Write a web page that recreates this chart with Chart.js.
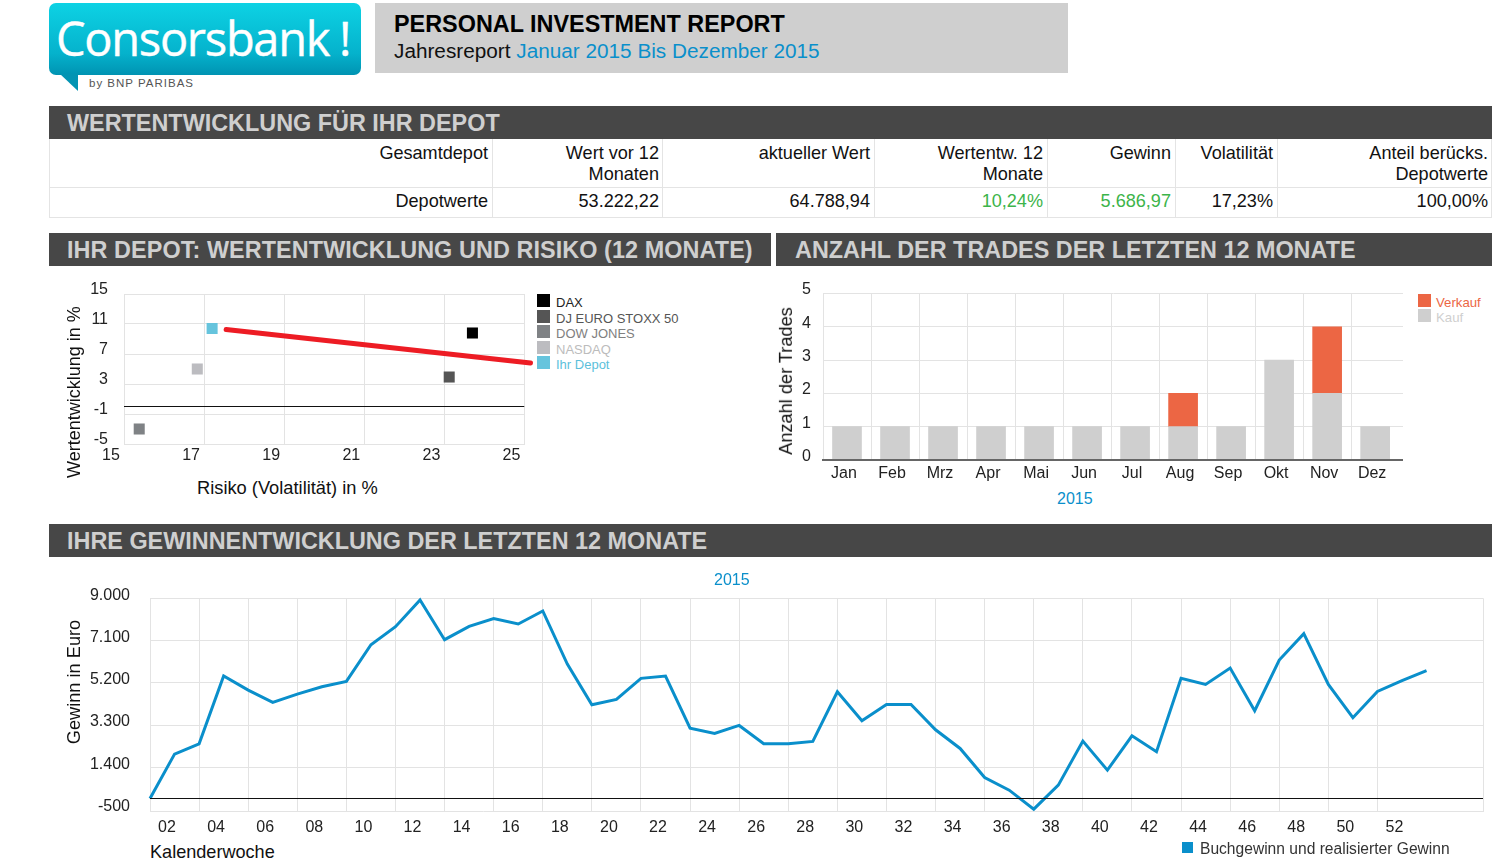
<!DOCTYPE html>
<html lang="de">
<head>
<meta charset="utf-8">
<title>Personal Investment Report</title>
<script src="https://cdn.jsdelivr.net/npm/chart.js@4"></script>
<style>
  html, body { margin: 0; padding: 0; background: #fff; overflow: hidden; }
  body { width: 1503px; height: 860px; position: relative; font-family: "Liberation Sans", sans-serif; color: #111; }
  .abs, canvas { position: absolute; }
  .t { position: absolute; white-space: nowrap; line-height: 1; }
  .bar { position: absolute; background: #474747; color: #cfcfcf; font-weight: bold; font-size: 23.4px; line-height: 34px; height: 33px; padding-left: 18px; box-sizing: border-box; white-space: nowrap; }
  .rot { position: absolute; white-space: nowrap; line-height: 1; transform: translate(-50%, -50%) rotate(-90deg); }
  .box { position: absolute; }
  #logo { left: 49px; top: 3px; width: 312px; height: 72px; border-radius: 7px; background: linear-gradient(#0dd2e4, #05b2cc 70%, #0093b2); }
  #tail { left: 60px; top: 74px; width: 18px; height: 17px; background: #0394b3; clip-path: polygon(0 0, 100% 0, 100% 100%); }
</style>
</head>
<body>
<div class="abs" id="logo"></div>
<div class="abs" id="tail"></div>
<div class="t" style="left:56px;top:8px;font:500 47px 'Open Sans';line-height:60px;color:#fff;letter-spacing:-1.3px;-webkit-text-stroke:0.4px #fff">Consorsbank</div>
<div class="t" style="left:339px;top:8px;font:500 47px 'Open Sans';line-height:60px;color:#fff;-webkit-text-stroke:0.4px #fff">!</div>
<div class="t" style="left:89px;top:78px;font-size:11.5px;color:#555;letter-spacing:1px">by BNP PARIBAS</div>

<div class="abs" style="left:375px;top:3px;width:693px;height:70px;background:#cfcfcf"></div>
<div class="t" style="left:394px;top:13px;font-size:23.4px;font-weight:bold;color:#000">PERSONAL INVESTMENT REPORT</div>
<div class="t" style="left:394px;top:41px;font-size:20.75px;color:#111">Jahresreport <span style="color:#0a8fcb">Januar 2015 Bis Dezember 2015</span></div>

<div class="bar" style="left:49px;top:106px;width:1443px">WERTENTWICKLUNG FÜR IHR DEPOT</div>
<div class="bar" style="left:49px;top:233px;width:722px;letter-spacing:0.08px">IHR DEPOT: WERTENTWICKLUNG UND RISIKO (12 MONATE)</div>
<div class="bar" style="left:776px;top:233px;width:716px;padding-left:19px">ANZAHL DER TRADES DER LETZTEN 12 MONATE</div>
<div class="bar" style="left:49px;top:524px;width:1443px">IHRE GEWINNENTWICKLUNG DER LETZTEN 12 MONATE</div>

<div id="table"></div>

<canvas id="riskChart" style="left:60px;top:280px"></canvas>
<canvas id="tradesChart" style="left:780px;top:280px"></canvas>
<canvas id="profitChart" style="left:70px;top:585px"></canvas>

<div class="rot" style="left:74px;top:391.5px;font-size:18px">Wertentwicklung in %</div>
<div class="t" style="left:197px;top:479px;font-size:18.3px">Risiko (Volatilität) in %</div>
<div class="rot" style="left:786px;top:381px;font-size:18.2px">Anzahl der Trades</div>
<div class="t" style="left:1057px;top:491px;font-size:16px;color:#0a8fcb">2015</div>
<div class="t" style="left:714px;top:572px;font-size:16px;color:#0a8fcb">2015</div>
<div class="rot" style="left:74px;top:681.5px;font-size:18.2px">Gewinn in Euro</div>
<div class="t" style="left:150px;top:843px;font-size:18.1px">Kalenderwoche</div>
<div id="legends"></div>

<script>
const TABLE_HEAD = [['Gesamtdepot'], ['Wert vor 12', 'Monaten'], ['aktueller Wert'], ['Wertentw. 12', 'Monate'], ['Gewinn'], ['Volatilität'], ['Anteil berücks.', 'Depotwerte']];
const TABLE_ROW = ['Depotwerte', '53.222,22', '64.788,94', '10,24%', '5.686,97', '17,23%', '100,00%'];
const TABLE_GREEN = [3, 4];

// risk / return scatter
const RISK_NAMES = ['DAX', 'DJ EURO STOXX 50', 'DOW JONES', 'NASDAQ', 'Ihr Depot'];
const RISK_X = [23.7, 23.12, 15.38, 16.83, 17.2];
const RISK_Y = [9.8, 3.93, -3, 5, 10.4];
const RISK_COLORS = ['#000000', '#555555', '#7f8285', '#bcbcc0', '#66c4dd'];
const RISK_TEXT = ['#222222', '#555555', '#808080', '#bcbcbc', '#5cbfdb'];
const TREND_X = [17.55, 25.15];
const TREND_Y = [10.27, 5.8];
const RISK_X_TICKS = [15, 17, 19, 21, 23, 25];
const RISK_Y_TICKS = [-5, -1, 3, 7, 11, 15];

// trades per month
const MONTHS = ['Jan', 'Feb', 'Mrz', 'Apr', 'Mai', 'Jun', 'Jul', 'Aug', 'Sep', 'Okt', 'Nov', 'Dez'];
const KAUF = [1, 1, 1, 1, 1, 1, 1, 1, 1, 3, 2, 1];
const VERKAUF = [0, 0, 0, 0, 0, 0, 0, 1, 0, 0, 2, 0];

// weekly profit
const GEWINN = [0, 1995, 2460, 5505, 4875, 4320, 4695, 5025, 5265, 6915, 7725, 8925, 7140, 7740, 8085, 7845, 8430,
  6045, 4215, 4455, 5400, 5505, 3165, 2925, 3285, 2460, 2460, 2565, 4800, 3495, 4230, 4230, 3090, 2250, 945, 375,
  -480, 600, 2580, 1275, 2820, 2100, 5400, 5130, 5865, 3945, 6225, 7410, 5130, 3630, 4815, 5295, 5745];
const GEWINN_Y_TICKS = [-500, 1400, 3300, 5200, 7100, 9000];

const GRID = '#e3e3e3';
const BLUE = '#0a8fcb';
Chart.defaults.font.family = '"Liberation Sans", sans-serif';
Chart.defaults.font.size = 16;
Chart.defaults.color = '#222';
Chart.defaults.animation = false;
Chart.defaults.responsive = false;
Chart.defaults.plugins.legend.display = false;
Chart.defaults.plugins.tooltip.enabled = false;

function setTicks(axis, values) {
  axis.ticks = values.map(value => ({ value }));
}

// pin the axis box, so the plot area lands where the reference has it
function fitAxis(scale, size) {
  if (scale.isHorizontal()) scale.height = size;
  else scale.width = size;
  scale.paddingTop = scale.paddingBottom = scale.paddingLeft = scale.paddingRight = 0;
}

function renderTable() {
  const COL_LINES = [492, 662, 874, 1047, 1175, 1277];
  const COL_RIGHT = [488, 659, 870, 1043, 1171, 1273, 1488];
  const html = [];
  const line = (x, y, w, h) => html.push(`<div class="abs" style="left:${x}px;top:${y}px;width:${w}px;height:${h}px;background:#e4e4e4"></div>`);
  line(49, 187, 1443, 1);
  line(49, 217, 1443, 1);
  line(49, 139, 1, 78);
  line(1491, 139, 1, 78);
  COL_LINES.forEach(x => line(x, 139, 1, 78));
  const cell = (right, y, text, color) => html.push(`<div class="t" style="right:${1503 - right}px;top:${y}px;font-size:18.1px;color:${color}">${text}</div>`);
  TABLE_HEAD.forEach((lines, i) => lines.forEach((text, j) => cell(COL_RIGHT[i], 144 + j * 21, text, '#111')));
  TABLE_ROW.forEach((text, i) => cell(COL_RIGHT[i], 192, text, TABLE_GREEN.includes(i) ? '#3cb44a' : '#111'));
  document.getElementById('table').innerHTML = html.join('');
}

function renderLegends() {
  const html = [];
  const item = (x, y, size, textX, font, text, color, textColor) => {
    const drop = font > 14 ? 1 : 2;
    html.push(`<div class="box" style="left:${x}px;top:${y}px;width:${size}px;height:${size}px;background:${color}"></div>`);
    html.push(`<div class="t" style="left:${textX}px;top:${y + size / 2 - font / 2 + drop}px;font-size:${font}px;color:${textColor}">${text}</div>`);
  };
  RISK_NAMES.forEach((name, i) => item(537, 294 + i * 15.5, 13, 556, 13, name, RISK_COLORS[i], RISK_TEXT[i]));
  item(1418, 294, 13, 1436, 13.2, 'Verkauf', '#ec6644', '#ec6644');
  item(1418, 309, 13, 1436, 13.2, 'Kauf', '#cfcfcf', '#cfcfcf');
  item(1182, 842, 11, 1200, 15.6, 'Buchgewinn und realisierter Gewinn', BLUE, '#333');
  document.getElementById('legends').innerHTML = html.join('');
}

function renderRiskChart() {
  const canvas = document.getElementById('riskChart');
  canvas.width = 475;
  canvas.height = 185;
  const points = RISK_NAMES.map((name, i) => ({
    label: name,
    data: [{ x: RISK_X[i], y: RISK_Y[i] }],
    pointStyle: 'rect',
    pointRadius: 7.8,
    backgroundColor: RISK_COLORS[i],
    borderWidth: 0,
    clip: false,
  }));
  new Chart(canvas, {
    type: 'scatter',
    data: {
      datasets: [
        ...points,
        { label: 'Null', data: [{ x: 15, y: 0 }, { x: 25, y: 0 }], showLine: true, pointRadius: 0, borderColor: '#111', borderWidth: 1.2 },
        {
          label: 'Trend',
          data: TREND_X.map((x, i) => ({ x, y: TREND_Y[i] })),
          showLine: true, pointRadius: 0, borderColor: '#ed1c24', borderWidth: 5, borderCapStyle: 'round', clip: false,
        },
      ],
    },
    options: {
      layout: { padding: { top: 14, right: 10.5 } },
      scales: {
        x: {
          type: 'linear', min: 15, max: 25,
          afterBuildTicks: a => setTicks(a, RISK_X_TICKS),
          afterFit: s => fitAxis(s, 21),
          grid: { color: GRID, drawTicks: false },
          border: { color: GRID },
          ticks: { padding: 2, labelOffset: -13, maxRotation: 0, minRotation: 0, autoSkip: false },
        },
        y: {
          min: -5, max: 15,
          afterBuildTicks: a => setTicks(a, RISK_Y_TICKS),
          afterFit: s => fitAxis(s, 64),
          grid: { color: GRID, drawTicks: false },
          border: { color: GRID },
          ticks: { padding: 16, labelOffset: -4 },
        },
      },
    },
  });
}

function renderTradesChart() {
  const canvas = document.getElementById('tradesChart');
  canvas.width = 623;
  canvas.height = 205;
  const toPoints = values => values.map((y, i) => ({ x: i, y })).filter(p => p.y > 0);
  const edges = [...MONTHS.map((m, i) => i - 0.5), 11.58];
  new Chart(canvas, {
    type: 'bar',
    data: {
      datasets: [
        { label: 'Kauf', data: toPoints(KAUF), backgroundColor: '#cfcfcf', barThickness: 29 },
        { label: 'Verkauf', data: toPoints(VERKAUF), backgroundColor: '#ec6644', barThickness: 29 },
      ],
    },
    options: {
      layout: { padding: { top: 13.5 } },
      scales: {
        x: {
          type: 'linear', stacked: true, offset: false, min: -0.5, max: 11.58,
          afterBuildTicks: a => setTicks(a, edges),
          afterFit: s => fitAxis(s, 25),
          grid: { color: GRID, drawTicks: false, offset: false },
          border: { color: '#666', width: 2, z: 1 },
          ticks: {
            padding: 4, labelOffset: 21, maxRotation: 0, minRotation: 0, autoSkip: false,
            callback: v => MONTHS[Math.round(v + 0.5)] || '',
          },
        },
        y: {
          stacked: true, min: 0, max: 5,
          afterFit: s => fitAxis(s, 43),
          grid: { color: GRID, drawTicks: false },
          border: { color: GRID },
          ticks: { stepSize: 1, padding: 12, labelOffset: -3.5 },
        },
      },
    },
  });
}

function renderProfitChart() {
  const canvas = document.getElementById('profitChart');
  canvas.width = 1420;
  canvas.height = 257;
  const weekTicks = [];
  for (let i = 0; i <= 50; i += 2) weekTicks.push(i);
  weekTicks.push(54.3);
  new Chart(canvas, {
    type: 'scatter',
    data: {
      datasets: [
        { label: 'Null', data: [{ x: 0, y: 0 }, { x: 54.3, y: 0 }], showLine: true, pointRadius: 0, borderColor: '#111', borderWidth: 1.2 },
        {
          label: 'Buchgewinn und realisierter Gewinn',
          data: GEWINN.map((y, x) => ({ x, y })),
          showLine: true, pointRadius: 0, borderColor: BLUE, borderWidth: 3, borderJoinStyle: 'miter', clip: false,
        },
      ],
    },
    options: {
      layout: { padding: { top: 13.3, right: 7 } },
      scales: {
        x: {
          type: 'linear', min: 0, max: 54.3,
          afterBuildTicks: a => setTicks(a, weekTicks),
          afterFit: s => fitAxis(s, 31),
          grid: { color: GRID, drawTicks: false },
          border: { color: GRID },
          ticks: {
            padding: 7, labelOffset: 17, maxRotation: 0, minRotation: 0, autoSkip: false,
            callback: v => (v <= 50 ? String(v + 2).padStart(2, '0') : ''),
          },
        },
        y: {
          min: -562, max: 9000,
          afterBuildTicks: a => setTicks(a, GEWINN_Y_TICKS),
          afterFit: s => fitAxis(s, 80),
          grid: { color: c => (c.tick && c.tick.value === -500 ? 'transparent' : GRID), drawTicks: false },
          border: { color: GRID },
          ticks: {
            padding: 20, labelOffset: -3,
            callback: v => v.toLocaleString('de-DE'),
          },
        },
      },
    },
  });
}

renderTable();
renderLegends();
renderRiskChart();
renderTradesChart();
renderProfitChart();
</script>
</body>
</html>
